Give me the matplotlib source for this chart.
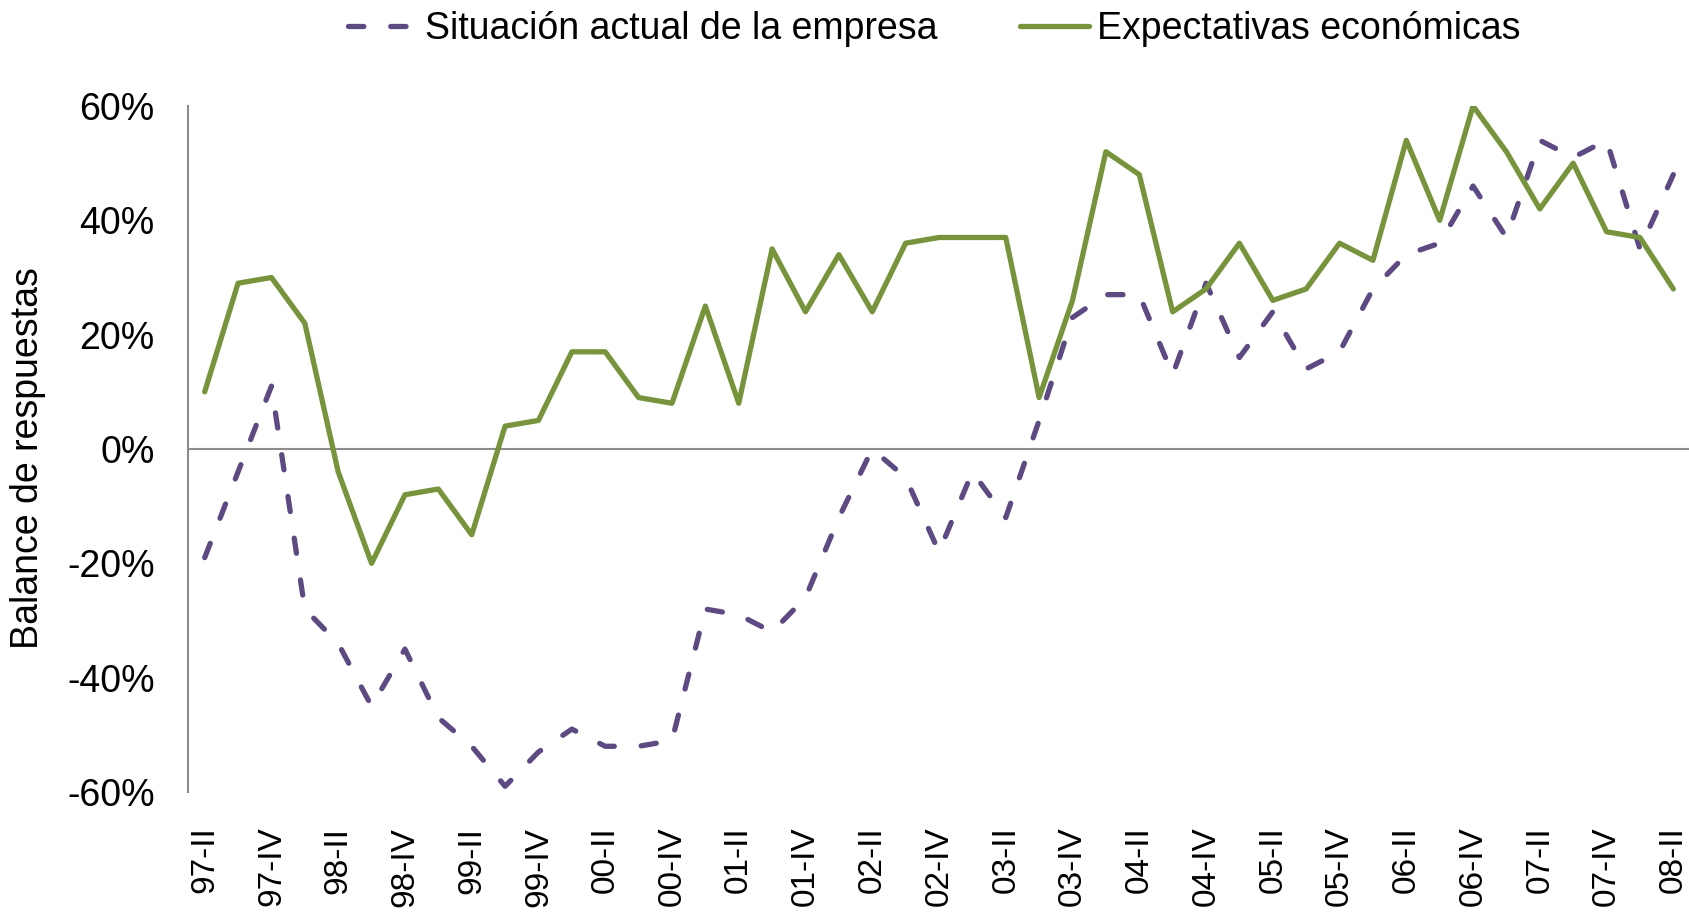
import numpy as np
import matplotlib.pyplot as plt
from matplotlib.ticker import FuncFormatter

plt.rcParams['font.family'] = ['Liberation Sans', 'DejaVu Sans']

# quarters from 97-II to 08-II
years = ["97", "98", "99", "00", "01", "02", "03", "04", "05", "06", "07", "08"]
quarters = ["I", "II", "III", "IV"]
periods = [y + "-" + q for y in years for q in quarters][1:46]

situacion = [-19, -4, 11, -28, -34, -45, -35, -47, -52, -59, -53, -49, -52, -52, -51,
             -28, -29, -32, -26, -12, 0, -5, -18, -4, -12, 5, 23, 27, 27, 13,
             29, 16, 24, 14, 17, 28, 34, 36, 46, 37, 54, 51, 54, 35, 48]
expectativas = [10, 29, 30, 22, -4, -20, -8, -7, -15, 4, 5, 17, 17, 9, 8,
                25, 8, 35, 24, 34, 24, 36, 37, 37, 37, 9, 26, 52, 48, 24,
                28, 36, 26, 28, 36, 33, 54, 40, 60, 52, 42, 50, 38, 37, 28]

purple = '#5E4A82'
green = '#77933C'
axis_grey = '#8C8C8C'
fs = 27

x = np.arange(len(periods))

fig = plt.figure(figsize=(16.9, 9.14), dpi=100)
ax = fig.add_axes([188 / 1690, 122 / 914, 1 - 188 / 1690, 686 / 914])

ax.plot(x, situacion, color=purple, lw=3.8, linestyle=(0, (2.9, 5.1)),
        dash_capstyle='round', solid_joinstyle='round',
        label="Situación actual de la empresa")
ax.plot(x, expectativas, color=green, lw=3.8, solid_joinstyle='round',
        solid_capstyle='round', label="Expectativas económicas")

ax.axhline(0, color=axis_grey, lw=1.5, zorder=0)

ax.set_xlim(-0.5, len(periods) - 0.5)
ax.set_ylim(-60, 60)
ax.set_yticks(np.arange(-60, 61, 20))
ax.yaxis.set_major_formatter(FuncFormatter(lambda v, p: f"{v:.0f}%"))
ax.set_xticks(x[::2])
ax.set_xticklabels(periods[::2], rotation=90)

for s in ['top', 'right', 'bottom']:
    ax.spines[s].set_visible(False)
ax.spines['left'].set_color(axis_grey)
ax.spines['left'].set_linewidth(1.5)

ax.tick_params(axis='y', length=0, pad=24, labelsize=fs)
ax.tick_params(axis='x', length=0, pad=25, labelsize=24)

fig.text(28 / 1690, 1 - 458 / 914, "Balance de respuestas", rotation=90,
         ha='center', va='center', fontsize=fs)

fig.legend(loc='center', bbox_to_anchor=(934 / 1690, 1 - 29 / 914), ncol=2,
           frameon=False, fontsize=fs, handlelength=1.85, handletextpad=0.2,
           columnspacing=2.2)

fig.savefig('out.png', dpi=100)
